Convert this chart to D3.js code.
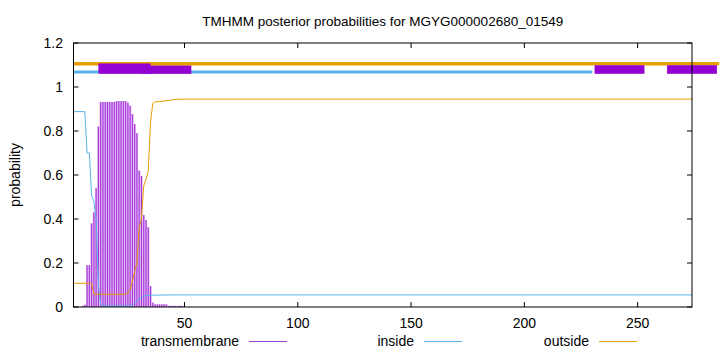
<!DOCTYPE html>
<html>
<head>
<meta charset="utf-8">
<script src="https://cdn.jsdelivr.net/npm/d3@7"></script>
<style>
  body { margin: 0; background: #fff; }
  text { font-family: "Liberation Sans", Arial, sans-serif; fill: #000; }
</style>
</head>
<body>
<svg width="720" height="352"></svg>
<script>
// TMHMM posterior probabilities

const seqLength = 274;

// transmembrane probability, one value per residue starting at residue 1
const tmProb = [
  0, 0, 0, 0, 0.005, 0.01, 0.19, 0.19, 0.38, 0.43,
  0.54, 0.82, 0.932, 0.932, 0.932, 0.932, 0.932, 0.932, 0.932, 0.936,
  0.936, 0.936, 0.936, 0.936, 0.929, 0.915, 0.877, 0.832, 0.79, 0.62,
  0.595, 0.418, 0.395, 0.362, 0.095, 0.02, 0.012, 0.012, 0.012, 0.012,
  0.012, 0.012, 0.005, 0.005, 0.005, 0.005, 0.005, 0.005, 0.005
];

// inside probability (residue, value)
const insidePos = [1, 6, 7, 8, 9, 10, 11, 12, 13, 14, 26, 27, 28, 29, 30, 31, 32, 33, 36, 46, 274];
const insideVal = [0.888, 0.888, 0.70, 0.70, 0.506, 0.48, 0.40, 0.10, 0.01, 0.005, 0.005, 0.008, 0.018, 0.028, 0.036, 0.044, 0.049, 0.052, 0.054, 0.055, 0.055];

// outside probability (residue, value)
const outsidePos = [1, 8, 9, 10, 24, 25, 26, 27, 28, 29, 30, 31, 32, 33, 34, 35, 36, 37, 41, 46, 51, 274];
const outsideVal = [0.108, 0.108, 0.105, 0.058, 0.058, 0.065, 0.08, 0.115, 0.16, 0.20, 0.36, 0.40, 0.55, 0.58, 0.62, 0.84, 0.925, 0.932, 0.936, 0.944, 0.945, 0.945];

// predicted topology bars along the top
const topoKind  = ["inside", "tm", "outside", "tm", "tm", "tm"];
const topoStart = [1, 31, 1, 12, 231, 263];
const topoEnd   = [230, 53, 286, 35, 253, 285];

const yTicks = [0, 0.2, 0.4, 0.6, 0.8, 1, 1.2];
const xTicks = [50, 100, 150, 200, 250];

const legendNames = ["transmembrane", "inside", "outside"];

const colTM = "#9400d3", colIn = "#56b4e9", colOut = "#e69f00";

let svg = d3.select("svg");
const plotLeft = 73.5, plotRight = 692, plotTop = 43, plotBottom = 307;

let x = d3.scaleLinear().domain([1, seqLength]).range([plotLeft, plotRight]);
let y = d3.scaleLinear().domain([0, 1.2]).range([plotBottom, plotTop]);

const fs = "14px";

// title
svg.append("text")
  .attr("x", (plotLeft + plotRight) / 2).attr("y", 26)
  .attr("text-anchor", "middle").style("font-size", "13.5px")
  .text("TMHMM posterior probabilities for MGYG000002680_01549");

// y label
svg.append("text")
  .attr("transform", "translate(20," + ((plotTop + plotBottom) / 2) + ") rotate(-90)")
  .attr("text-anchor", "middle").style("font-size", fs)
  .text("probability");

// tick labels
svg.selectAll(".ylab").data(yTicks).enter().append("text")
  .attr("x", 63).attr("y", d => y(d) + 5)
  .attr("text-anchor", "end").style("font-size", fs)
  .text(d => d);

svg.selectAll(".xlab").data(xTicks).enter().append("text")
  .attr("x", d => x(d)).attr("y", 328)
  .attr("text-anchor", "middle").style("font-size", fs)
  .text(d => d);

// tick marks, mirrored, pointing in
let ticks = svg.append("g").attr("stroke", "#000").attr("stroke-width", 1);
yTicks.forEach(d => {
  ticks.append("line").attr("x1", plotLeft).attr("x2", plotLeft + 5).attr("y1", y(d)).attr("y2", y(d));
  ticks.append("line").attr("x1", plotRight).attr("x2", plotRight - 5).attr("y1", y(d)).attr("y2", y(d));
});
xTicks.forEach(d => {
  ticks.append("line").attr("x1", x(d)).attr("x2", x(d)).attr("y1", plotBottom).attr("y2", plotBottom - 5);
  ticks.append("line").attr("x1", x(d)).attr("x2", x(d)).attr("y1", plotTop).attr("y2", plotTop + 5);
});

// transmembrane impulses: soft halo plus a thin core line
let tmData = tmProb.map((v, i) => [i + 1, v]).filter(d => d[1] > 0);
let step = x(2) - x(1);
let tmG = svg.append("g");
tmG.selectAll("rect").data(tmData).enter().append("rect")
  .attr("x", d => x(d[0]) - step / 2).attr("width", step)
  .attr("y", d => y(d[1])).attr("height", d => y(0) - y(d[1]))
  .attr("fill", "#dcaaf0");
tmG.selectAll("line").data(tmData).enter().append("line")
  .attr("x1", d => x(d[0])).attr("x2", d => x(d[0]))
  .attr("y1", y(0)).attr("y2", d => y(d[1]))
  .attr("stroke", "#a030d8").attr("stroke-width", 1);

// inside / outside curves
let line = d3.line().x(d => x(d[0])).y(d => y(d[1]));
svg.append("path")
  .datum(insidePos.map((p, i) => [p, insideVal[i]]))
  .attr("d", line).attr("fill", "none").attr("stroke", colIn).attr("stroke-width", 1);
svg.append("path")
  .datum(outsidePos.map((p, i) => [p, outsideVal[i]]))
  .attr("d", line).attr("fill", "none").attr("stroke", colOut).attr("stroke-width", 1);

// topology bars on top
topoKind.forEach((k, i) => {
  if (k === "inside") {
    svg.append("line").attr("x1", x(topoStart[i])).attr("x2", x(topoEnd[i]))
      .attr("y1", y(1.068)).attr("y2", y(1.068))
      .attr("stroke", colIn).attr("stroke-width", 3);
  } else if (k === "outside") {
    svg.append("line").attr("x1", x(topoStart[i])).attr("x2", x(topoEnd[i]))
      .attr("y1", y(1.106)).attr("y2", y(1.106))
      .attr("stroke", colOut).attr("stroke-width", 3.5);
  } else {
    let topV = i === 3 ? 1.107 : 1.099;
    svg.append("rect")
      .attr("x", x(topoStart[i])).attr("width", x(topoEnd[i]) - x(topoStart[i]))
      .attr("y", y(topV)).attr("height", y(1.06) - y(topV))
      .attr("fill", colTM);
  }
});

// border
svg.append("rect")
  .attr("x", plotLeft).attr("y", plotTop).attr("width", plotRight - plotLeft).attr("height", plotBottom - plotTop)
  .attr("fill", "none").attr("stroke", "#000").attr("stroke-width", 1);

// legend
const legendEnd = [239, 414, 589];
const legendCol = ["#a040d8", colIn, colOut];
legendNames.forEach((n, i) => {
  svg.append("text").attr("x", legendEnd[i]).attr("y", 346)
    .attr("text-anchor", "end").style("font-size", fs).text(n);
  svg.append("line")
    .attr("x1", legendEnd[i] + 10).attr("x2", legendEnd[i] + 48)
    .attr("y1", 341.5).attr("y2", 341.5)
    .attr("stroke", legendCol[i]).attr("stroke-width", 1);
});
</script>
</body>
</html>
